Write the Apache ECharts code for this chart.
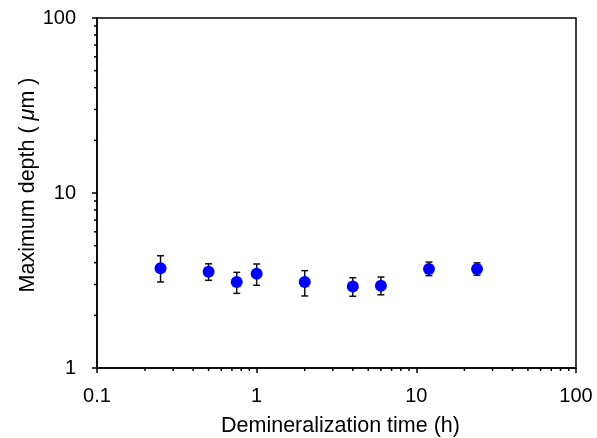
<!DOCTYPE html>
<html>
<head>
<meta charset="utf-8">
<script src="https://cdn.jsdelivr.net/npm/echarts@6.0.0/dist/echarts.min.js"></script>
<style>
  html, body { margin: 0; padding: 0; background: #fff; }
  #main { width: 597px; height: 438px; }
</style>
</head>
<body>
<div id="main"></div>
<script>
// 数据
const times = [0.25, 0.5, 0.75, 1, 2, 4, 6, 12, 24];
const depthMean = [3.71, 3.55, 3.10, 3.46, 3.10, 2.92, 2.95, 3.68, 3.68];
const depthHigh = [4.38, 3.94, 3.52, 3.93, 3.60, 3.28, 3.31, 4.03, 3.99];
const depthLow = [3.10, 3.17, 2.67, 2.97, 2.58, 2.57, 2.62, 3.37, 3.39];
// 次刻度
const xMinorTicks = [0.2, 0.3, 0.4, 0.5, 0.6, 0.7, 0.8, 0.9, 2, 3, 4, 5, 6, 7, 8, 9, 20, 30, 40, 50, 60, 70, 80, 90];
const yMinorTicks = [2, 3, 4, 5, 6, 7, 8, 9, 20, 30, 40, 50, 60, 70, 80, 90];

const font = "Liberation Sans, Arial, sans-serif";
const chart = echarts.init(document.getElementById("main"));

const option = {
  animation: false,
  grid: {
    left: 97,
    right: 21,
    top: 18,
    bottom: 70,
    containLabel: false,
    outerBoundsMode: "none",
    show: true,
    borderColor: "#000",
    borderWidth: 1.5,
  },
  xAxis: {
    type: "log",
    logBase: 10,
    min: 0.1,
    max: 100,
    name: "Demineralization time (h)",
    nameLocation: "middle",
    nameGap: 47,
    nameMoveOverlap: false,
    nameTextStyle: { color: "#000", fontSize: 21.5, fontFamily: font, padding: [0, 0, 0, 8] },
    axisLine: { lineStyle: { color: "#000", width: 1.5 } },
    axisTick: { length: 5, lineStyle: { color: "#000", width: 1.5 } },
    axisLabel: {
      color: "#000",
      fontSize: 20,
      fontFamily: font,
      margin: 18,
      formatter: (v) => String(v),
    },
    splitLine: { show: false },
  },
  yAxis: {
    type: "log",
    logBase: 10,
    min: 1,
    max: 100,
    name: "Maximum depth ( {i|μ}m )",
    nameLocation: "middle",
    nameGap: 58,
    nameMoveOverlap: false,
    nameTextStyle: {
      color: "#000",
      fontSize: 21.5,
      fontFamily: font,
      padding: [0, 0, 0, 16],
      rich: { i: { fontStyle: "italic", fontSize: 21.5, fontFamily: font, color: "#000" } },
    },
    axisLine: { lineStyle: { color: "#000", width: 1.5 } },
    axisTick: { length: 5, lineStyle: { color: "#000", width: 1.5 } },
    axisLabel: {
      color: "#000",
      fontSize: 20,
      fontFamily: font,
      margin: 21,
      formatter: (v) => String(v),
    },
    splitLine: { show: false },
  },
  series: [
    // x 次刻度
    {
      type: "custom",
      silent: true,
      clip: false,
      data: xMinorTicks.map((v) => [v, 1]),
      renderItem: function (params, api) {
        const p = api.coord([api.value(0), api.value(1)]);
        return {
          type: "line",
          shape: { x1: p[0], y1: p[1], x2: p[0], y2: p[1] + 3 },
          style: { stroke: "#000", lineWidth: 1.5 },
        };
      },
    },
    // y 次刻度
    {
      type: "custom",
      silent: true,
      clip: false,
      data: yMinorTicks.map((v) => [0.1, v]),
      renderItem: function (params, api) {
        const p = api.coord([api.value(0), api.value(1)]);
        return {
          type: "line",
          shape: { x1: p[0] - 3, y1: p[1], x2: p[0], y2: p[1] },
          style: { stroke: "#000", lineWidth: 1.5 },
        };
      },
    },
    // 误差棒
    {
      type: "custom",
      silent: true,
      data: times.map((t, i) => [t, depthLow[i], depthHigh[i]]),
      renderItem: function (params, api) {
        const lo = api.coord([api.value(0), api.value(1)]);
        const hi = api.coord([api.value(0), api.value(2)]);
        const w = 3.5;
        const st = { stroke: "#111", lineWidth: 1.5 };
        return {
          type: "group",
          children: [
            { type: "line", shape: { x1: lo[0], y1: lo[1], x2: hi[0], y2: hi[1] }, style: st },
            { type: "line", shape: { x1: lo[0] - w, y1: lo[1], x2: lo[0] + w, y2: lo[1] }, style: st },
            { type: "line", shape: { x1: hi[0] - w, y1: hi[1], x2: hi[0] + w, y2: hi[1] }, style: st },
          ],
        };
      },
      z: 2,
    },
    // 平均值
    {
      type: "scatter",
      data: times.map((t, i) => [t, depthMean[i]]),
      symbol: "circle",
      symbolSize: 12,
      itemStyle: { color: "#0000FF", opacity: 1 },
      z: 3,
    },
  ],
};

chart.setOption(option);
</script>
</body>
</html>
